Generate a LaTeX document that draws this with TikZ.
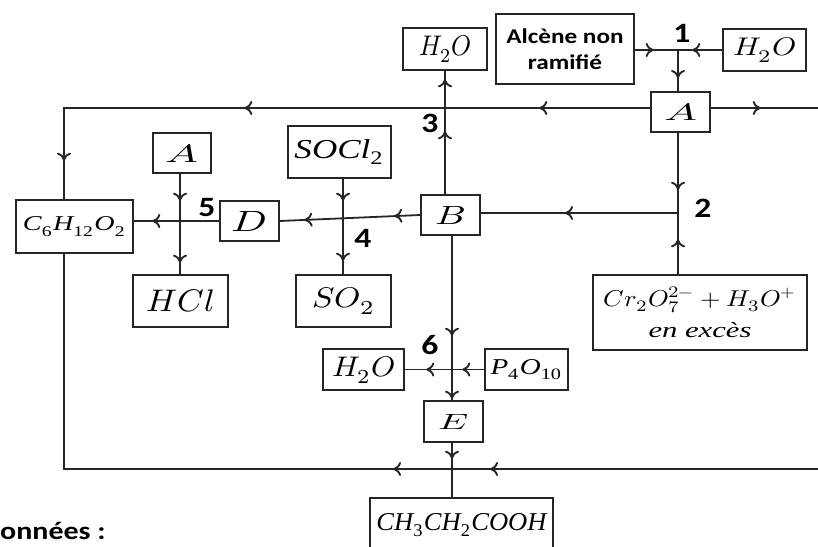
\documentclass[tikz,border=0pt]{standalone}
\usepackage{fontspec}
\usepackage{unicode-math}
\setmathfont{Latin Modern Math}
\newfontfamily\calfont[FakeStretch=1.2]{Carlito}
\newfontfamily\chem{Liberation Serif}
\newcommand\fm[3]{\resizebox{#1}{#2}{#3}}
\newcommand\cf[1]{{\chem\itshape #1}}
\newcommand\su[1]{\textsubscript{\upshape #1}}
\usetikzlibrary{arrows.meta,decorations.markings}
\begin{document}
\begin{tikzpicture}[x=1pt,y=-1pt,
  ln/.style={line width=1.8pt, draw=black!85},
  bx/.style={draw=black!85, line width=1.5pt, inner sep=0pt, align=center},
  tipat/.style={postaction={decorate,decoration={markings,mark=at position #1 with {\pgfsetlinewidth{1.9pt}\pgfsetstrokecolor{black!85}\arrow{Computer Modern Rightarrow[length=8pt,width=14pt]}}}}},
  num/.style={font=\calfont\bfseries\fontsize{28}{28}\selectfont, inner sep=0pt}
]
\clip (0,0) rectangle (818,546);
% top row
\node[bx, minimum width=84pt, minimum height=42pt] (h2oT) at (445,49) {\fm{52pt}{20pt}{$H_2O$}};
\node[bx, minimum width=138pt, minimum height=70pt, font=\calfont\bfseries\fontsize{21}{26}\selectfont] (alc) at (565,49) {Alcène non\\ramifié};
\node[bx, minimum width=83pt, minimum height=42pt] (h2oR) at (764.5,50) {\fm{63pt}{18pt}{$H_2O$}};
\coordinate (j1) at (678,50);
\node[bx, minimum width=59pt, minimum height=40pt] (Aa) at (680.5,112) {\fm{33pt}{17pt}{$A$}};
\coordinate (cTL) at (64,108);
\coordinate (cTR) at (818,108);
% middle
\node[bx, minimum width=59pt, minimum height=40pt] (B) at (450.5,215) {\fm{30pt}{18pt}{$B$}};
\node[bx, minimum width=59pt, minimum height=40pt] (D) at (249.5,221) {\fm{35pt}{20pt}{$D$}};
\node[bx, minimum width=103pt, minimum height=52pt] (socl) at (339.5,152) {\fm{90pt}{19pt}{\cf{SOCl\su{2}}}};
\node[bx, minimum width=95pt, minimum height=52pt] (so2) at (343.5,301) {\fm{63pt}{20pt}{$SO_2$}};
\node[bx, minimum width=117pt, minimum height=53pt] (c6) at (74.5,226.5) {\fm{103pt}{14pt}{\cf{C\su{6}H\su{12}O\su{2}}}};
\node[bx, minimum width=58pt, minimum height=40pt] (Al) at (182,153) {\fm{33pt}{18pt}{$A$}};
\node[bx, minimum width=95pt, minimum height=52pt] (hcl) at (180.5,301) {\fm{68pt}{22pt}{$HCl$}};
\node[bx, minimum width=214pt, minimum height=75pt] (cr) at (700,312.5) {\fm{193pt}{19pt}{$Cr_2O_7^{2-}+H_3O^+$}\\[9pt]\fm{103pt}{15pt}{\cf{en excès}}};
\coordinate (j2) at (678,213);
\coordinate (j4) at (343,218);
\coordinate (j5) at (180,222);
% bottom
\coordinate (j6) at (452,369);
\node[bx, minimum width=81pt, minimum height=41pt] (h2oB) at (363.5,369.5) {\fm{63pt}{20pt}{$H_2O$}};
\node[bx, minimum width=83pt, minimum height=41pt] (p4) at (526.5,369.5) {\fm{72pt}{15pt}{\cf{P\su{4}O\su{10}}}};
\node[bx, minimum width=59pt, minimum height=41pt] (E) at (453.5,421.5) {\fm{30pt}{15pt}{$E$}};
\node[bx, minimum width=183pt, minimum height=54pt] (ch3) at (461.5,525) {\fm{170pt}{17pt}{\cf{CH\su{3}CH\su{2}COOH}}};
\coordinate (cBL) at (64,469);
\coordinate (cBR) at (818,469);
% connectors
\draw[ln, tipat=19pt] (alc.east |- j1) -- (j1);
\draw[ln, tipat=30pt] (h2oR.west |- j1) -- (j1);
\draw[ln, tipat=28pt] (j1) -- (j1 |- Aa.north);
\draw[ln, tipat=111pt, tipat=406pt, tipat=639pt] (cTL -| Aa.west) -- (cTL) -- (c6.north -| cTL);
\draw[ln, tipat=50pt] (cTR -| Aa.east) -- (cTR);
\draw[ln, tipat=57pt] (j1 |- Aa.south) -- (j2);
\draw[ln, tipat=35pt] (j2 |- cr.north) -- (j2);
\draw[ln, tipat=113pt] (j2) -- (j2 -| B.east);
\draw[ln, tipat=63pt, tipat=115pt] (B.north -| h2oT) -- (h2oT.south);
\draw[ln, tipat=26pt, tipat=116pt] (B.west) -- (D.east);
\draw[ln, tipat=22pt, tipat=82pt] (j4 |- socl.south) -- (j4) -- (j4 |- so2.north);
\draw[ln, tipat=67pt] (D.west) -- (D.west -| c6.east);
\draw[ln, tipat=27pt, tipat=89pt] (j5 |- Al.south) -- (j5) -- (j5 |- hcl.north);
\draw[ln, tipat=328pt, tipat=425pt] (cBR) -- (cBL) -- (cBL |- c6.south);
\draw[ln, tipat=100pt, tipat=163pt] (j6 |- B.south) -- (j6) -- (j6 |- E.north);
\draw[ln, tipat=22pt, tipat=58pt] (p4.west) -- (h2oB.east);
\draw[ln, tipat=16pt, tipat=55pt] (j6 |- E.south) -- (j6 |- ch3.north);
% labels
\node[num] (n1) at (682,33) {1};
\node[num] (n2) at (703,208) {2};
\node[num] (n3) at (430,123) {3};
\node[num] (n4) at (363,238) {4};
\node[num] (n5) at (207,208) {5};
\node[num] (n6) at (430,345) {6};
\node[font=\calfont\bfseries\fontsize{25}{25}\selectfont, anchor=base west, inner sep=0pt] (don) at (0,539) {onnées :};
\end{tikzpicture}
\end{document}
